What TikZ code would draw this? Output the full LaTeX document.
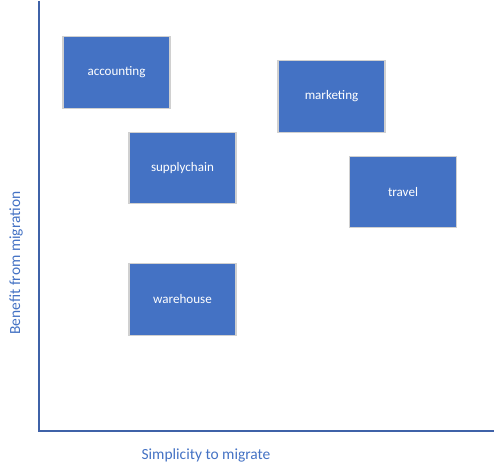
\documentclass[tikz,border=0pt]{standalone}
\usepackage{fontspec}
\setmainfont{Carlito}
\definecolor{boxblue}{HTML}{4472C4}
\definecolor{axisblue}{HTML}{3F62A8}
\definecolor{labelblue}{HTML}{4472C4}
\definecolor{boxedge}{HTML}{D0D0D0}
\begin{document}
\begin{tikzpicture}[x=0.75pt,y=-0.75pt,
  cat/.style={draw=boxedge,line width=0.9pt,fill=boxblue,minimum width=80.25pt,minimum height=53.5pt,inner sep=0pt,text=white,font=\fontsize{9.8}{11}\selectfont},
  axislabel/.style={text=labelblue,font=\fontsize{11.6}{13}\selectfont,inner sep=0pt},
  axisline/.style={draw=axisblue,line width=1.3pt}]
\useasboundingbox (0,0) rectangle (494,473);
\coordinate (top) at (39,1);
\coordinate (origin) at (39,431);
\coordinate (right) at (494,431);
\draw[axisline] (top) -- (origin) -- (right);
\node[cat] (accounting) at (116.5,72.5) {accounting};
\node[cat] (supplychain) at (182.5,168) {supplychain};
\node[cat] (marketing) at (331.5,96.5) {marketing};
\node[cat] (travel) at (403,192) {travel};
\node[cat] (warehouse) at (182.5,299.5) {warehouse};
\node[axislabel] (xlabel) at (206,455) {Simplicity to migrate};
\node[axislabel,rotate=90] (ylabel) at (16,263) {Benefit from migration};
\end{tikzpicture}
\end{document}
